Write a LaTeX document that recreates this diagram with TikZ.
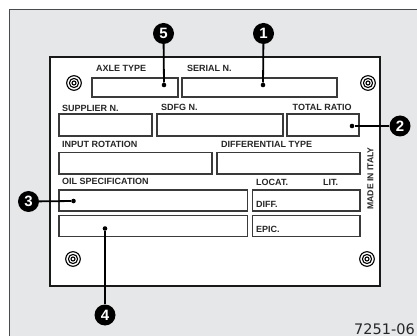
\documentclass[tikz,border=0pt]{standalone}
\usepackage{fontspec}
\setmainfont{Liberation Sans}
\newfontfamily\numfont{DejaVu Sans}
\definecolor{bggray}{HTML}{E6E7E8}
\definecolor{edgegray}{HTML}{4A4A4A}
\definecolor{boxgray}{HTML}{3A3A3A}
\begin{document}
\begin{tikzpicture}[x=1pt,y=-1pt,
  lbl/.style={font=\bfseries\fontsize{9}{10}\selectfont, anchor=base west, inner sep=0pt, text=black!85},
  field/.style={draw=boxgray, line width=1.1pt, fill=white},
  marker/.style={circle, fill=black, text=white, minimum size=21pt, inner sep=0pt, font=\bfseries\fontsize{15}{15}\selectfont},
  lead/.style={line width=1.8pt, black},
  leaddot/.style={circle, fill=black, minimum size=4.6pt, inner sep=0pt},
  screwring/.style={draw=black, line width=1.1pt}]
\useasboundingbox (0,0) rectangle (417,336);
% background
\fill[bggray] (9,9) rectangle (420,340);
\draw[edgegray, line width=0.9pt] (9,340) -- (9,9) -- (420,9);
% plate
\draw[fill=white, draw=black!90, line width=2.2pt] (50,57) rectangle (380,286);
% screws
\foreach \n/\x/\y in {s1/74/83, s2/368/83, s3/73/259, s4/367/259}{
  \node[circle, minimum size=0pt, inner sep=0pt] (\n) at (\x,\y) {};
  \draw[screwring] (\n) circle (7.3);
  \draw[screwring] (\n) circle (4.6);
  \draw[screwring] (\n) circle (2.0);
}
% fields
\draw[field] (92,78) rectangle (178,97);
\draw[field] (182,78) rectangle (337,97);
\draw[field] (59,114) rectangle (152,136);
\draw[field] (157,114) rectangle (283,136);
\draw[field] (287,114) rectangle (359,136);
\draw[field] (59,152.5) rectangle (212,174);
\draw[field] (217,152.5) rectangle (360,174);
\draw[field] (59,190) rectangle (247.5,211);
\draw[field] (252.5,190) rectangle (360,211);
\draw[field] (59,215.5) rectangle (247.5,236.5);
\draw[field] (252.5,215.5) rectangle (360,236.5);
% labels
\node[lbl] (laxle) at (96,71.5) {AXLE TYPE};
\node[lbl] (lserial) at (187,71.5) {SERIAL N.};
\node[lbl] (lsupp) at (62,111.5) {SUPPLIER N.};
\node[lbl] (lsdfg) at (161,111) {SDFG N.};
\node[lbl] (lratio) at (292.5,110.5) {TOTAL RATIO};
\node[lbl] (linput) at (62,147.5) {INPUT ROTATION};
\node[lbl] (ldiff) at (221,147.5) {DIFFERENTIAL TYPE};
\node[lbl] (loil) at (62,185) {OIL SPECIFICATION};
\node[lbl] (llocat) at (256,185.5) {LOCAT.};
\node[lbl] (llit) at (323,185.5) {LIT.};
\node[lbl] (ldf) at (256,207.5) {DIFF.};
\node[lbl] (lepic) at (256,232.5) {EPIC.};
\node[font=\bfseries\fontsize{8.6}{10}\selectfont, inner sep=0pt, rotate=90, text=black!85] (lmade) at (370.5,178.5) {MADE IN ITALY};
% leader dots
\node[leaddot] (d5) at (164,85) {};
\node[leaddot] (d1) at (263,85) {};
\node[leaddot] (d2) at (352,126) {};
\node[leaddot] (d3) at (73.5,201) {};
\node[leaddot] (d4) at (105,228.5) {};
% markers
\node[marker] (m5) at (163.5,33.5) {5};
\node[marker] (m1) at (263.5,33.5) {1};
\node[marker] (m2) at (400,126) {2};
\node[marker] (m3) at (28.5,201.5) {3};
\node[marker] (m4) at (105,315) {4};
\draw[lead] (m5) -- (d5);
\draw[lead] (m1) -- (d1);
\draw[lead] (m2) -- (d2);
\draw[lead] (m3) -- (d3);
\draw[lead] (m4) -- (d4);
% figure number
\node[font=\numfont\fontsize{14.5}{15}\selectfont, anchor=base east, inner sep=0pt, text=black!85] (fig) at (415,334) {7251-06};
\end{tikzpicture}
\end{document}
